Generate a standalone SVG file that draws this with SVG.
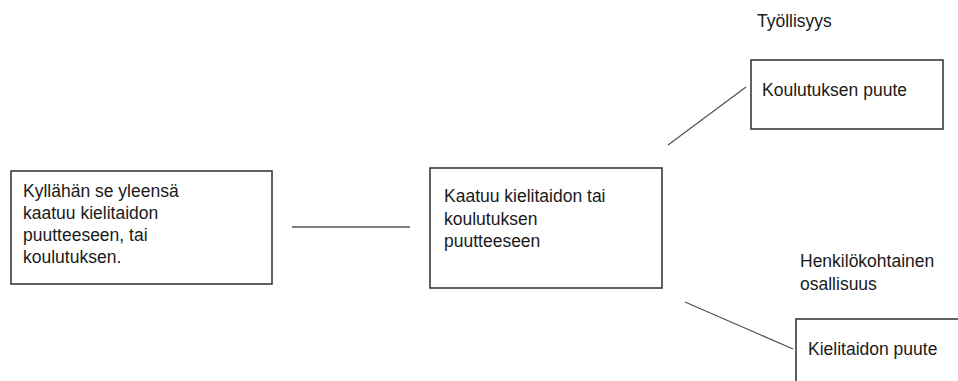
<svg xmlns="http://www.w3.org/2000/svg" width="958" height="381" viewBox="0 0 958 381">
<style>
.box{fill:#fff;stroke:#3a3a3a;stroke-width:1.6}
.t{font-family:"Liberation Sans",Arial,sans-serif;font-size:17.5px;fill:#1a1a1a}
.c{stroke:#555;stroke-width:1.3;fill:none}
</style>
<rect width="958" height="381" fill="#fff"/>
<g id="connectors">
<line class="c" x1="292" y1="227" x2="410" y2="227"/>
<line class="c" x1="668" y1="145" x2="746" y2="87"/>
<line class="c" x1="685" y1="302" x2="793" y2="349"/>
</g>
<g id="node-left">
<rect class="box" x="11" y="171" width="261" height="113"/>
<text class="t" x="23" y="197">Kyllähän se yleensä</text>
<text class="t" x="23" y="219">kaatuu kielitaidon</text>
<text class="t" x="23" y="241">puutteeseen, tai</text>
<text class="t" x="23" y="263">koulutuksen.</text>
</g>
<g id="node-middle">
<rect class="box" x="430" y="168" width="232" height="120"/>
<text class="t" x="444" y="202">Kaatuu kielitaidon tai</text>
<text class="t" x="444" y="225">koulutuksen</text>
<text class="t" x="444" y="247">puutteeseen</text>
</g>
<g id="label-tyollisyys">
<text class="t" x="757" y="27">Työllisyys</text>
</g>
<g id="node-koulutus">
<rect class="box" x="751" y="60" width="192" height="69"/>
<text class="t" x="762" y="96">Koulutuksen puute</text>
</g>
<g id="label-henkilo">
<text class="t" x="800" y="267">Henkilökohtainen</text>
<text class="t" x="800" y="290">osallisuus</text>
</g>
<g id="node-kielitaito">
<rect class="box" x="796" y="319" width="170" height="70"/>
<text class="t" x="808" y="355">Kielitaidon puute</text>
</g>
</svg>
